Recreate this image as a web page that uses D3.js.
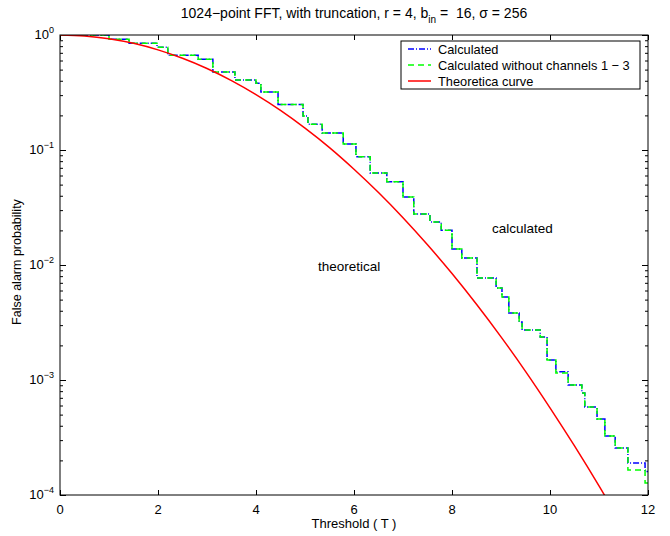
<!DOCTYPE html>
<html>
<head>
<meta charset="utf-8">
<script src="https://cdn.jsdelivr.net/npm/d3@7"></script>
<style>
  body { margin: 0; background: #fff; }
  svg text { font-family: "Liberation Sans", Arial, sans-serif; fill: #000; }
  .axis path.domain { display: none; }
  .axis line { stroke: #000; }
</style>
</head>
<body>
<div id="chart"></div>
<script>
"use strict";

// threshold values where the measured staircase steps down
var stepT = [0, 1.0, 1.41, 1.98, 2.2, 2.82, 3.12, 3.57, 4.0, 4.1, 4.45, 4.96, 5.06, 5.35, 5.78,
  6.04, 6.33, 6.67, 7.0, 7.22, 7.55, 7.78, 8.0, 8.2, 8.51, 8.9, 9.02, 9.16, 9.37, 9.43,
  9.8, 9.94, 10.12, 10.37, 10.65, 10.71, 10.96, 11.12, 11.33, 11.59, 11.94, 12];
// "Calculated"
var calcP = [1.0, 0.918, 0.847, 0.782, 0.666, 0.615, 0.477, 0.406, 0.38, 0.319, 0.249, 0.1975,
  0.1674, 0.1405, 0.1128, 0.0874, 0.0631, 0.053, 0.039, 0.0278, 0.0237, 0.0201, 0.01377,
  0.0115, 0.00771, 0.00631, 0.00527, 0.00383, 0.00319, 0.00272, 0.00237, 0.00149, 0.00118,
  0.000905, 0.000771, 0.000582, 0.000458, 0.000326, 0.000256, 0.00019, 0.00016, 0.00016];
// "Calculated without channels 1 - 3"
var calcNoP = [1.0, 0.918, 0.847, 0.782, 0.666, 0.615, 0.477, 0.406, 0.38, 0.319, 0.249, 0.1975,
  0.1674, 0.1405, 0.1128, 0.0874, 0.0631, 0.053, 0.039, 0.0278, 0.0237, 0.0201, 0.01377,
  0.0115, 0.00771, 0.00631, 0.00527, 0.00383, 0.00319, 0.00272, 0.00237, 0.00149, 0.00115,
  0.000905, 0.000771, 0.000582, 0.000458, 0.000326, 0.000256, 0.000165, 0.000127, 0.000127];

// theoretical curve
var theoT = [0, 0.5, 1, 1.5, 2, 2.5, 3, 3.5, 4, 4.5, 5, 5.5, 6, 6.5, 7, 7.5, 8, 8.5, 9, 9.5,
  10, 10.5, 11, 11.5];
var theoP = [1, 0.981, 0.928, 0.846, 0.742, 0.627, 0.511, 0.401, 0.303, 0.221, 0.155, 0.105,
  0.0681, 0.0427, 0.0258, 0.015, 0.00842, 0.00455, 0.00237, 0.00119, 0.000573, 0.000267,
  0.00012, 0.0000517];

var xTicks = [0, 2, 4, 6, 8, 10, 12];
var yExp = [0, -1, -2, -3, -4];

var width = 670, height = 536,
    padL = 60, padR = 648, padT = 35, padB = 495;

var svg = d3.select("#chart").append("svg")
    .attr("width", width)
    .attr("height", height);

var x = d3.scaleLinear().domain([0, 12]).range([padL, padR]);
var y = d3.scaleLog().domain([1e-4, 1]).range([padB, padT]);

// minor ticks 2..9 inside each decade
var minors = [];
yExp.slice(1).forEach(function(e) {
  for (var k = 2; k <= 9; k++) minors.push(k * Math.pow(10, e));
});

svg.append("defs").append("clipPath").attr("id", "clip")
  .append("rect")
    .attr("x", padL).attr("y", padT)
    .attr("width", padR - padL).attr("height", padB - padT);

// ticks pointing inward on all four sides
svg.append("g").attr("class", "axis")
    .attr("transform", "translate(0," + padB + ")")
    .call(d3.axisBottom(x).tickValues(xTicks).tickSizeInner(-5).tickSizeOuter(0).tickFormat(""));
svg.append("g").attr("class", "axis")
    .attr("transform", "translate(0," + padT + ")")
    .call(d3.axisTop(x).tickValues(xTicks).tickSizeInner(-5).tickSizeOuter(0).tickFormat(""));

var decades = yExp.map(function(e) { return Math.pow(10, e); });
svg.append("g").attr("class", "axis")
    .attr("transform", "translate(" + padL + ",0)")
    .call(d3.axisLeft(y).tickValues(decades).tickSizeInner(-6).tickSizeOuter(0).tickFormat(""));
svg.append("g").attr("class", "axis")
    .attr("transform", "translate(" + padL + ",0)")
    .call(d3.axisLeft(y).tickValues(minors).tickSizeInner(-3).tickSizeOuter(0).tickFormat(""));
svg.append("g").attr("class", "axis")
    .attr("transform", "translate(" + padR + ",0)")
    .call(d3.axisRight(y).tickValues(decades).tickSizeInner(-6).tickSizeOuter(0).tickFormat(""));
svg.append("g").attr("class", "axis")
    .attr("transform", "translate(" + padR + ",0)")
    .call(d3.axisRight(y).tickValues(minors).tickSizeInner(-3).tickSizeOuter(0).tickFormat(""));

// x tick labels
svg.selectAll(".xlab").data(xTicks).enter().append("text")
    .attr("x", function(d) { return x(d); })
    .attr("y", padB + 19)
    .attr("text-anchor", "middle")
    .attr("font-size", 13)
    .text(function(d) { return d; });

// y tick labels as 10^n
var ylab = svg.selectAll(".ylab").data(yExp).enter().append("text")
    .attr("x", padL - 6)
    .attr("y", function(d) { return y(Math.pow(10, d)) + 4; })
    .attr("text-anchor", "end")
    .attr("font-size", 13);
ylab.append("tspan").text("10");
ylab.append("tspan").attr("dy", -6).attr("font-size", 9)
    .text(function(d) { return d === 0 ? "0" : "\u2212" + (-d); });

// lines
var plot = svg.append("g").attr("clip-path", "url(#clip)");

var stepLine = d3.line().curve(d3.curveStepAfter)
    .x(function(d) { return x(d[0]); })
    .y(function(d) { return y(d[1]); });

plot.append("path")
    .datum(d3.zip(stepT, calcP))
    .attr("d", stepLine)
    .attr("fill", "none")
    .attr("stroke", "#0000ff")
    .attr("stroke-width", 1.5)
    .attr("stroke-dasharray", "6,2,1,2");

plot.append("path")
    .datum(d3.zip(stepT, calcNoP))
    .attr("d", stepLine)
    .attr("fill", "none")
    .attr("stroke", "#00ff00")
    .attr("stroke-width", 1.5)
    .attr("stroke-dasharray", "6,4");

var smooth = d3.line().curve(d3.curveMonotoneX)
    .x(function(d) { return x(d[0]); })
    .y(function(d) { return y(d[1]); });

plot.append("path")
    .datum(d3.zip(theoT, theoP))
    .attr("d", smooth)
    .attr("fill", "none")
    .attr("stroke", "#ff0000")
    .attr("stroke-width", 1.5);

// box
svg.append("rect")
    .attr("x", padL).attr("y", padT)
    .attr("width", padR - padL).attr("height", padB - padT)
    .attr("fill", "none").attr("stroke", "#000").attr("stroke-width", 1);

// title
var title = svg.append("text")
    .attr("x", 354).attr("y", 18)
    .attr("text-anchor", "middle")
    .attr("font-size", 14);
title.append("tspan").text("1024\u2212point FFT, with truncation, r = 4, b");
title.append("tspan").attr("dy", 5).attr("font-size", 10).text("in");
title.append("tspan").attr("dy", -5).text(" =\u00a0 16, \u03c3 = 256");

// axis titles
svg.append("text")
    .attr("x", 354).attr("y", padB + 33)
    .attr("text-anchor", "middle")
    .attr("font-size", 13)
    .text("Threshold ( T )");
svg.append("text")
    .attr("transform", "translate(21," + ((padT + padB) / 2 - 3) + ")rotate(-90)")
    .attr("text-anchor", "middle")
    .attr("font-size", 12.5)
    .text("False alarm probability");

// annotations
svg.append("text").attr("x", 318).attr("y", 271).attr("font-size", 13.5).text("theoretical");
svg.append("text").attr("x", 492).attr("y", 233).attr("font-size", 13.5).text("calculated");

// legend
var legend = svg.append("g");
legend.append("rect")
    .attr("x", 401).attr("y", 41).attr("width", 239).attr("height", 48)
    .attr("fill", "#fff").attr("stroke", "#000").attr("stroke-width", 1);
var legItems = [
  { label: "Calculated", color: "#0000ff", dash: "6,2,1,2" },
  { label: "Calculated without channels 1 \u2212 3", color: "#00ff00", dash: "6,4" },
  { label: "Theoretica curve", color: "#ff0000", dash: null }
];
legItems.forEach(function(d, i) {
  var yy = 49 + i * 16;
  legend.append("line")
      .attr("x1", 408).attr("x2", 431).attr("y1", yy).attr("y2", yy)
      .attr("stroke", d.color).attr("stroke-width", 1.5)
      .attr("stroke-dasharray", d.dash);
  legend.append("text")
      .attr("x", 438).attr("y", yy + 4.5)
      .attr("font-size", 12.8)
      .text(d.label);
});
</script>
</body>
</html>
